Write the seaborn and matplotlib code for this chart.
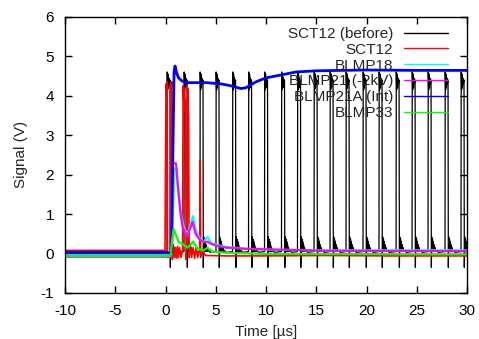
import numpy as np
import pandas as pd
import matplotlib
matplotlib.use("Agg")
import matplotlib.pyplot as plt
import seaborn as sns
from matplotlib.lines import Line2D

# ---- data ----
series_names = ["SCT12 (before)", "SCT12", "BLMP18", "BLMP21 (-2kV)", "BLMP21A (Int)", "BLMP33"]
series_colors = ["#000000", "#ff0000", "#00ffff", "#ff00ff", "#0000ff", "#00ff00"]
series_widths = [0.9, 1.2, 1.6, 1.6, 2.0, 1.6]

# SCT12 (before): repeating pulse train
pulse_times = [0.15, 1.84, 3.43, 5.02, 6.67, 8.26, 9.85, 11.54, 13.13, 14.78,
               16.37, 17.96, 19.65, 21.24, 22.94, 24.53, 26.12, 27.81, 29.40]
pulse_dt = [0.00, 0.02, 0.06, 0.10, 0.14, 0.18, 0.22, 0.30, 0.33, 0.37, 0.41,
            0.45, 0.49, 0.53, 0.57, 0.61, 0.65, 0.70, 0.75, 0.85, 1.00]
pulse_v = [0.05, 4.60, 4.15, 4.55, 4.20, 4.45, 4.30, 4.40, -0.35, 0.42, 0.05,
           0.36, 0.05, 0.30, 0.05, 0.22, 0.05, 0.15, 0.05, 0.08, 0.03]
before_baseline = 0.05

# SCT12 (after)
red_t = [-10, -0.05, 0.05, 0.10, 0.15, 0.20, 0.45, 0.50, 0.55, 0.62, 0.68, 0.80, 0.90,
         1.00, 1.10, 1.20, 1.30, 1.40, 1.55, 1.70, 1.75, 1.80, 1.90, 1.95, 2.00, 2.05,
         2.15, 2.20, 2.25, 2.30, 2.35, 2.50, 2.60, 2.75, 2.90, 3.05, 3.20, 3.40, 3.45,
         3.50, 3.70, 4.00, 6.0, 10.0, 16.0, 22.0, 30.0]
red_v = [0.08, 0.08, 4.30, 4.00, 4.35, -0.10, 0.00, 4.30, 4.10, 4.35, -0.15, 0.20, -0.10,
         0.15, -0.12, 0.18, -0.10, 0.15, -0.10, 0.10, 4.25, 3.90, 4.20, 3.60, 3.90, -0.15,
         0.20, 4.20, 3.70, 3.50, -0.10, 0.18, -0.10, 0.15, -0.12, 0.15, -0.10, 0.10, 2.35,
         -0.10, 0.05, -0.05, -0.06, -0.06, -0.05, -0.06, -0.06]

cyan_t = [-10, 0.60, 0.80, 0.90, 1.10, 1.30, 1.60, 1.90, 2.20, 2.50, 2.75, 3.00, 3.40,
          3.80, 4.20, 4.50, 5.0, 6.0, 8.0, 10.0, 15.0, 30.0]
cyan_v = [-0.02, -0.02, 1.50, 2.15, 2.15, 1.50, 0.90, 0.60, 0.50, 0.75, 0.95, 0.60, 0.38,
          0.30, 0.42, 0.28, 0.22, 0.17, 0.12, 0.10, 0.08, 0.08]

magenta_t = [-10, 0.50, 0.65, 0.75, 1.05, 1.20, 1.50, 1.70, 2.10, 2.40, 2.70, 3.00, 3.40,
             4.00, 4.20, 4.50, 5.0, 6.0, 8.0, 11.0, 16.0, 30.0]
magenta_v = [-0.08, -0.08, 1.80, 2.30, 2.28, 1.80, 1.00, 0.68, 0.43, 0.60, 0.80, 0.50, 0.35,
             0.28, 0.30, 0.25, 0.20, 0.15, 0.12, 0.10, 0.07, 0.06]

blue_t = [-10, 0.60, 0.70, 0.85, 0.95, 1.10, 1.30, 1.60, 2.0, 4.0, 5.5, 6.5, 7.5, 8.0,
          9.0, 10.0, 11.0, 12.0, 13.0, 15.0, 20.0, 25.0, 30.0]
blue_v = [0.02, 0.02, 2.00, 4.60, 4.75, 4.58, 4.45, 4.38, 4.33, 4.33, 4.30, 4.25, 4.18,
          4.20, 4.35, 4.45, 4.50, 4.55, 4.60, 4.63, 4.65, 4.64, 4.64]

green_t = [-10, 0.50, 0.65, 0.80, 1.00, 1.30, 1.80, 2.20, 2.75, 3.20, 3.80, 4.20, 4.60,
           6.0, 10.0, 30.0]
green_v = [-0.06, -0.06, 0.30, 0.62, 0.50, 0.30, 0.22, 0.15, 0.30, 0.12, 0.08, 0.15, 0.05,
           0.02, -0.01, -0.02]

# ---- build the long table ----
black_t = [-10.0, pulse_times[0] - 0.01]
black_v = [before_baseline, before_baseline]
for p in pulse_times:
    black_t += [p + d for d in pulse_dt]
    black_v += list(pulse_v)
black_t.append(30.0)
black_v.append(0.03)

frames = []
for name, tt, vv in zip(series_names,
                        [black_t, red_t, cyan_t, magenta_t, blue_t, green_t],
                        [black_v, red_v, cyan_v, magenta_v, blue_v, green_v]):
    frames.append(pd.DataFrame({"t": tt, "v": vv, "series": name}))
df = pd.concat(frames, ignore_index=True)

sns.set_theme(style="ticks")
plt.rcParams["font.family"] = ["Liberation Sans", "DejaVu Sans"]
plt.rcParams["axes.unicode_minus"] = False

fig = plt.figure(figsize=(4.79, 3.39), dpi=100)
ax = fig.add_axes([0.1357, 0.1357, 0.8393, 0.8150])

for name, color, lw in zip(series_names, series_colors, series_widths):
    sns.lineplot(data=df[df["series"] == name], x="t", y="v", color=color,
                 estimator=None, sort=False, linewidth=lw, ax=ax)

ax.set_xlim(-10, 30)
ax.set_ylim(-1, 6)
ax.set_xticks(np.arange(-10, 31, 5))
ax.set_yticks(np.arange(-1, 7, 1))
ax.tick_params(direction="in", top=True, right=True, length=5, width=1,
               labelsize=11, pad=8, colors="black")
for s in ax.spines.values():
    s.set_linewidth(1)
    s.set_color("black")
ax.set_xlabel("Time [µs]", fontsize=11, labelpad=5)
ax.set_ylabel("Signal (V)", fontsize=11, labelpad=9)

handles = [Line2D([0], [0], color=c, lw=1) for c in series_colors]
leg = ax.legend(handles, series_names, loc="upper right", bbox_to_anchor=(0.953, 0.963),
                frameon=False, markerfirst=False, fontsize=11, handlelength=2.9,
                handletextpad=0.7, labelspacing=0.12, borderpad=0, borderaxespad=0)
leg.set_zorder(10)

fig.savefig("out.png", dpi=100)
